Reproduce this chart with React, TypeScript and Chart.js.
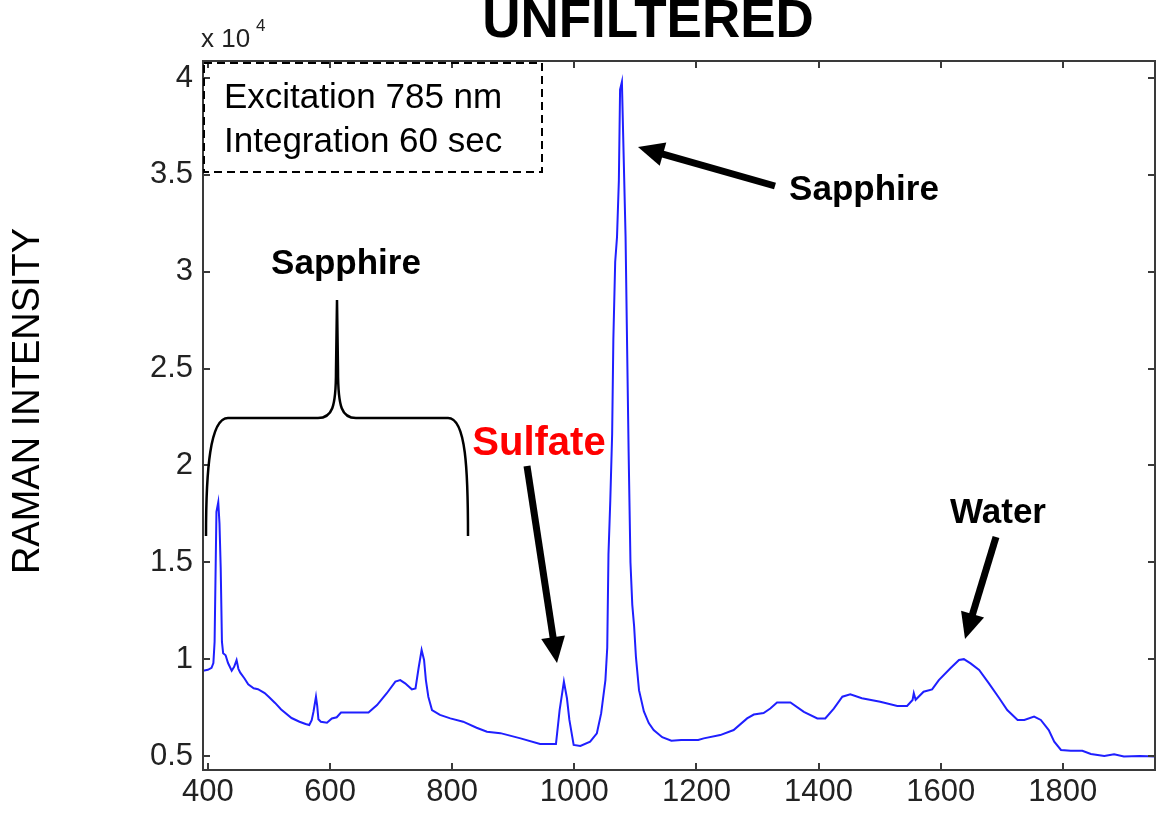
import React, { useEffect, useRef } from 'react';
import { Chart, registerables } from 'chart.js';

Chart.register(...registerables);

// Raman shift (cm^-1)
const wavenumbers = [
  392, 400, 406, 409, 411, 414, 417, 419, 421, 423, 425, 429, 433, 439, 443, 447, 450, 453, 460, 466,
  475, 482, 493, 500, 510, 520, 537, 550, 560, 566, 570, 573, 577, 579, 581, 585, 595, 603, 611, 618,
  663, 677, 693, 707, 715, 723, 734, 740, 745, 750, 754, 757, 761, 767, 780, 797, 818, 840, 857, 879,
  912, 944, 970, 976, 983, 988, 992, 999, 1010, 1026, 1037, 1044, 1051, 1054, 1056, 1059, 1062, 1064, 1067, 1070,
  1073, 1075, 1078, 1081, 1084, 1086, 1089, 1092, 1095, 1098, 1101, 1106, 1114, 1122, 1130, 1144, 1159, 1175, 1203, 1212,
  1239, 1261, 1283, 1294, 1310, 1321, 1332, 1354, 1376, 1398, 1411, 1425, 1439, 1452, 1471, 1501, 1529, 1545, 1554, 1556,
  1559, 1572, 1586, 1597, 1616, 1630, 1638, 1649, 1663, 1679, 1696, 1709, 1726, 1737, 1753, 1764, 1777, 1786, 1797, 1813,
  1832, 1846, 1868, 1884, 1900, 1926, 1951,
];

// Raman intensity (counts)
const intensities = [
  9400, 9450, 9550, 9800, 10900, 17600, 18100, 17000, 14700, 10900, 10300, 10200, 9800, 9400, 9600, 9950, 9500, 9300, 9000, 8700,
  8500, 8450, 8250, 8050, 7740, 7400, 6960, 6770, 6650, 6600, 6850, 7300, 8060, 7600, 6900, 6770, 6720, 6940, 7000, 7240,
  7240, 7630, 8240, 8840, 8920, 8750, 8440, 8490, 9530, 10470, 9960, 8920, 8060, 7370, 7120, 6940, 6770, 6460, 6250, 6180,
  5910, 5620, 5620, 7370, 8840, 7980, 6860, 5570, 5520, 5740, 6170, 7200, 8920, 10600, 15400, 18200, 21600, 26500, 30500, 31800,
  34700, 39400, 39800, 35800, 31800, 27300, 20700, 15000, 12800, 11700, 10100, 8400, 7300, 6700, 6340, 5970, 5790, 5830, 5830, 5910,
  6080, 6340, 6940, 7140, 7220, 7450, 7760, 7760, 7280, 6940, 6940, 7450, 8060, 8180, 7980, 7800, 7580, 7580, 7890, 8240,
  7900, 8320, 8440, 8920, 9530, 9960, 10000, 9780, 9440, 8750, 7980, 7370, 6860, 6860, 7030, 6860, 6340, 5740, 5310, 5270,
  5270, 5100, 5000, 5090, 4970, 5000, 4970,
];

const xTickValues = [400, 600, 800, 1000, 1200, 1400, 1600, 1800];
const yTickValues = [5000, 10000, 15000, 20000, 25000, 30000, 35000, 40000];
const yTickLabels = ['0.5', '1', '1.5', '2', '2.5', '3', '3.5', '4'];
const xRange = [392, 1951];
const yRange = [4277, 40878];

const chartTitle = 'UNFILTERED';
const yAxisTitle = 'RAMAN INTENSITY';
const boxLines = ['Excitation 785 nm', 'Integration 60 sec'];
const peakLabels = ['Sapphire', 'Sapphire', 'Sulfate', 'Water'];

const FONT = '"Liberation Sans", Arial, Helvetica, sans-serif';

function drawArrow(ctx: CanvasRenderingContext2D, x1: number, y1: number, x2: number, y2: number) {
  const ang = Math.atan2(y2 - y1, x2 - x1);
  const headLen = 26;
  const headW = 12;
  const bx = x2 - headLen * Math.cos(ang);
  const by = y2 - headLen * Math.sin(ang);
  ctx.save();
  ctx.strokeStyle = '#000';
  ctx.fillStyle = '#000';
  ctx.lineWidth = 7;
  ctx.lineCap = 'butt';
  ctx.beginPath();
  ctx.moveTo(x1, y1);
  ctx.lineTo(bx + 2 * Math.cos(ang), by + 2 * Math.sin(ang));
  ctx.stroke();
  ctx.beginPath();
  ctx.moveTo(x2, y2);
  ctx.lineTo(bx + headW * Math.sin(ang), by - headW * Math.cos(ang));
  ctx.lineTo(bx - headW * Math.sin(ang), by + headW * Math.cos(ang));
  ctx.closePath();
  ctx.fill();
  ctx.restore();
}

const overlayPlugin = {
  id: 'overlay',
  afterDraw(chart: any) {
    const ctx: CanvasRenderingContext2D = chart.ctx;
    const { left, right, top, bottom } = chart.chartArea;
    const xs = chart.scales.x;
    const ys = chart.scales.y;
    ctx.save();

    // frame
    ctx.strokeStyle = '#3a3a3a';
    ctx.lineWidth = 2;
    ctx.strokeRect(left, top, right - left, bottom - top);

    // inward ticks on all four sides
    const tl = 7;
    ctx.beginPath();
    xTickValues.forEach((v) => {
      const p = Math.round(xs.getPixelForValue(v));
      ctx.moveTo(p, bottom);
      ctx.lineTo(p, bottom - tl);
      ctx.moveTo(p, top);
      ctx.lineTo(p, top + tl);
    });
    yTickValues.forEach((v) => {
      const p = Math.round(ys.getPixelForValue(v));
      ctx.moveTo(left, p);
      ctx.lineTo(left + tl, p);
      ctx.moveTo(right, p);
      ctx.lineTo(right - tl, p);
    });
    ctx.stroke();

    // title (top slightly cropped, as in the source)
    ctx.fillStyle = '#000';
    ctx.font = `bold 53px ${FONT}`;
    ctx.textAlign = 'center';
    ctx.textBaseline = 'alphabetic';
    ctx.fillText(chartTitle, 648, 37);

    // exponent label
    ctx.fillStyle = '#222';
    ctx.font = `26px ${FONT}`;
    ctx.textAlign = 'left';
    ctx.fillText('x 10', 201, 47);
    ctx.font = `17px ${FONT}`;
    ctx.fillText('4', 256, 31);

    // y axis title
    ctx.save();
    ctx.translate(39, 401);
    ctx.rotate(-Math.PI / 2);
    ctx.fillStyle = '#000';
    ctx.font = `38px ${FONT}`;
    ctx.textAlign = 'center';
    ctx.textBaseline = 'alphabetic';
    ctx.fillText(yAxisTitle, 0, 0);
    ctx.restore();

    // dashed info box
    ctx.save();
    ctx.setLineDash([8, 5]);
    ctx.strokeStyle = '#000';
    ctx.lineWidth = 2;
    ctx.strokeRect(204, 63, 338, 109);
    ctx.restore();
    ctx.fillStyle = '#000';
    ctx.font = `35px ${FONT}`;
    ctx.textAlign = 'left';
    ctx.fillText(boxLines[0], 224, 108);
    ctx.fillText(boxLines[1], 224, 152);

    // annotations
    ctx.textAlign = 'center';
    ctx.textBaseline = 'middle';
    ctx.font = `bold 35px ${FONT}`;
    ctx.fillStyle = '#000';
    ctx.fillText(peakLabels[0], 864, 190);
    ctx.fillText(peakLabels[1], 346, 264);
    ctx.fillText(peakLabels[3], 998, 513);
    ctx.font = `bold 40px ${FONT}`;
    ctx.fillStyle = '#ff0000';
    ctx.fillText(peakLabels[2], 539, 444);

    drawArrow(ctx, 775, 186, 638, 147);
    drawArrow(ctx, 527, 466, 557, 663);
    drawArrow(ctx, 996, 537, 965, 639);

    // curly brace
    ctx.strokeStyle = '#000';
    ctx.lineWidth = 2.5;
    ctx.setLineDash([]);
    ctx.beginPath();
    ctx.moveTo(206, 536);
    ctx.bezierCurveTo(206, 470, 210, 418, 228, 418);
    ctx.lineTo(318, 418);
    ctx.bezierCurveTo(332, 418, 336, 408, 336, 370);
    ctx.lineTo(337, 300);
    ctx.lineTo(338, 370);
    ctx.bezierCurveTo(338, 408, 342, 418, 356, 418);
    ctx.lineTo(448, 418);
    ctx.bezierCurveTo(466, 418, 468, 470, 468, 536);
    ctx.stroke();

    ctx.restore();
  },
};

export default function App() {
  const canvasRef = useRef<HTMLCanvasElement | null>(null);

  useEffect(() => {
    document.body.style.margin = '0';
    const canvas = canvasRef.current;
    if (!canvas) return;
    const points = wavenumbers.map((x, i) => ({ x, y: intensities[i] }));
    const chart = new Chart(canvas, {
      type: 'line',
      data: {
        datasets: [
          {
            data: points,
            borderColor: '#1f1fff',
            borderWidth: 2,
            pointRadius: 0,
            tension: 0,
            fill: false,
          },
        ],
      },
      options: {
        animation: false,
        responsive: false,
        layout: { padding: { top: 61, right: 1, left: 0, bottom: 0 } },
        plugins: { legend: { display: false }, tooltip: { enabled: false }, title: { display: false } },
        scales: {
          x: {
            type: 'linear',
            min: xRange[0],
            max: xRange[1],
            grid: { display: false, drawTicks: false },
            border: { display: false },
            afterBuildTicks: (axis: any) => {
              axis.ticks = xTickValues.map((v) => ({ value: v }));
            },
            afterFit: (axis: any) => {
              axis.height = 43;
            },
            ticks: {
              autoSkip: false,
              maxRotation: 0,
              padding: 4,
              color: '#222',
              font: { family: FONT, size: 31 },
              callback: (v: any) => String(v),
            },
          },
          y: {
            type: 'linear',
            min: yRange[0],
            max: yRange[1],
            grid: { display: false, drawTicks: false },
            border: { display: false },
            afterBuildTicks: (axis: any) => {
              axis.ticks = yTickValues.map((v) => ({ value: v }));
            },
            afterFit: (axis: any) => {
              axis.width = 203;
            },
            ticks: {
              autoSkip: false,
              padding: 10,
              color: '#222',
              font: { family: FONT, size: 31 },
              callback: (v: any) => {
                const i = yTickValues.indexOf(Number(v));
                return i >= 0 ? yTickLabels[i] : '';
              },
            },
          },
        },
      },
      plugins: [overlayPlugin],
    });
    return () => chart.destroy();
  }, []);

  return (
    <div style={{ position: 'fixed', left: 0, top: 0, width: 1156, height: 813, background: '#fff' }}>
      <canvas ref={canvasRef} width={1156} height={813} style={{ width: 1156, height: 813 }} />
    </div>
  );
}
